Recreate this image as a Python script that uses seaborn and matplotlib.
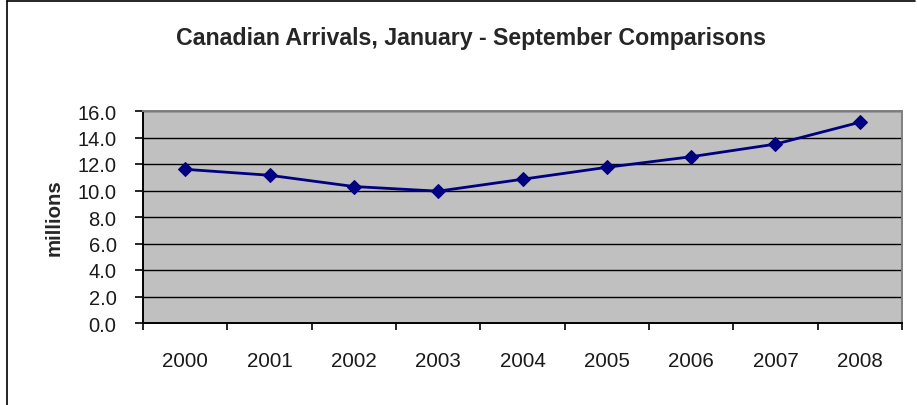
import numpy as np
import pandas as pd
import matplotlib
matplotlib.use("Agg")
import matplotlib.pyplot as plt
from matplotlib.lines import Line2D
import seaborn as sns

years = ["2000", "2001", "2002", "2003", "2004", "2005", "2006", "2007", "2008"]
arrivals = [11.6, 11.15, 10.3, 9.95, 10.85, 11.75, 12.55, 13.5, 15.15]
y_ticks = [0, 2, 4, 6, 8, 10, 12, 14, 16]

df = pd.DataFrame({"year": years, "arrivals": arrivals})

sns.set_theme(style="white")
plt.rcParams["font.family"] = ["Liberation Sans", "DejaVu Sans"]

W, H = 917, 406
fig = plt.figure(figsize=(W / 100, H / 100), dpi=100)
ax = fig.add_axes([143 / W, 1 - 324 / H, (902 - 143) / W, (324 - 112) / H])
ax.set_facecolor("#C0C0C0")

sns.lineplot(data=df, x="year", y="arrivals", ax=ax, color="#000080",
             linewidth=2.0, marker="D", markersize=6.8,
             markeredgecolor="#000080", markerfacecolor="#000080", zorder=5)

ax.set_xlim(-0.5, len(years) - 0.5)
ax.set_ylim(0, 16)
ax.set_yticks(y_ticks)
ax.set_yticklabels([f"{v:.1f}" for v in y_ticks])
ax.set_xticks(range(len(years)))
ax.set_xticklabels(years)
ax.set_xticks(np.arange(-0.5, len(years), 1), minor=True)

ax.grid(axis="y", color="black", linewidth=1.0)
ax.set_axisbelow(True)

ax.tick_params(axis="x", which="major", length=0, pad=20, labelsize=14.8,
               labelcolor="#1a1a1a")
ax.tick_params(axis="x", which="minor", length=5, width=1.2, color="black",
               direction="out", bottom=True)
ax.tick_params(axis="y", which="major", length=6, width=1.2, color="black",
               direction="out", left=True, pad=13, labelsize=14.5,
               labelcolor="#1a1a1a")

for side in ("left", "bottom"):
    ax.spines[side].set_color("black")
    ax.spines[side].set_linewidth(1.4)
for side in ("top", "right"):
    ax.spines[side].set_color("#808080")
    ax.spines[side].set_linewidth(1.4)

ax.set_xlabel("")
ax.set_ylabel("millions", fontsize=14.7, fontweight="bold")
ax.yaxis.set_label_coords((64 - 143) / (902 - 143), 0.5)

fig.text(471 / W, 1 - 39 / H, "Canadian Arrivals, January - September Comparisons",
         ha="center", va="center", fontsize=16.7, fontweight="bold")

# Chart frame along the left and top edges
fig.add_artist(Line2D([7 / W, 7 / W], [0, 1 - 2 / H], transform=fig.transFigure,
                      color="black", linewidth=1.2))
fig.add_artist(Line2D([7 / W, 915 / W], [1 - 2 / H, 1 - 2 / H],
                      transform=fig.transFigure, color="black", linewidth=1.2))

fig.savefig("out.png", dpi=100, facecolor="white")
